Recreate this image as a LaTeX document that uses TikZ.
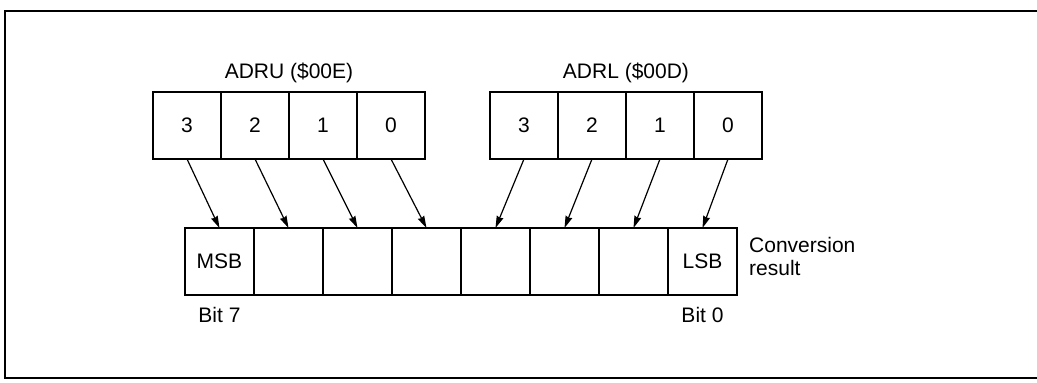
\documentclass[tikz,border=0pt]{standalone}
\usepackage{fontspec}
\setmainfont{Liberation Sans}
\usepackage{tikz}
\usetikzlibrary{positioning}
\usetikzlibrary{arrows.meta}
\tikzset{
  % One bit of a register
  bitcell/.style={
    draw=black, fill=white, rectangle, line width=2pt, outer sep=0pt,
    inner sep=0pt, minimum width=#1, minimum height=67pt, align=center},
  bitcell/.default=68pt,
  % Register name over a row of bits
  regname/.style={inner sep=0pt, align=center},
  % Bit numbers and side notes
  note/.style={inner sep=0pt, align=left},
  % Bit transfer
  moves/.style={-{Stealth[length=12pt, width=7pt, inset=1pt]}, line width=1.2pt},
  frame/.style={line width=2pt, line cap=rect},
}

\begin{document}
\begin{tikzpicture}[x=1pt, y=-1pt, font=\fontsize{21}{22.5}\selectfont]

  \useasboundingbox (0,0) rectangle (1037,383);
  \draw[frame] (1037,11) -- (5,11) -- (5,378) -- (1037,378);

  % ADRU, upper four bits
  \node[bitcell] (adru3) at (187,125.5) {3};
  \node[bitcell, right=0pt of adru3] (adru2) {2};
  \node[bitcell, right=0pt of adru2] (adru1) {1};
  \node[bitcell, right=0pt of adru1] (adru0) {0};
  \node[regname, above=9pt of adru2.north east] (adruname) {ADRU (\$00E)};

  % ADRL, lower four bits
  \node[bitcell] (adrl3) at (524,125.5) {3};
  \node[bitcell, right=0pt of adrl3] (adrl2) {2};
  \node[bitcell, right=0pt of adrl2] (adrl1) {1};
  \node[bitcell, right=0pt of adrl1] (adrl0) {0};
  \node[regname, above=9pt of adrl2.north east] (adrlname) {ADRL (\$00D)};

  % Conversion result
  \node[bitcell=69pt] (res7) at (219.5,261.5) {MSB};
  \node[bitcell=69pt, right=0pt of res7] (res6) {};
  \node[bitcell=69pt, right=0pt of res6] (res5) {};
  \node[bitcell=69pt, right=0pt of res5] (res4) {};
  \node[bitcell=69pt, right=0pt of res4] (res3) {};
  \node[bitcell=69pt, right=0pt of res3] (res2) {};
  \node[bitcell=69pt, right=0pt of res2] (res1) {};
  \node[bitcell=69pt, right=0pt of res1] (res0) {LSB};
  \node[note, below=12pt of res7] (bitseven) {Bit 7};
  \node[note, below=12pt of res0] (bitzero) {Bit 0};
  \node[note, right=12pt of res0, yshift=5pt] (resname) {Conversion\\result};

  \draw[moves] (adru3.south) -- (res7.north);
  \draw[moves] (adru2.south) -- (res6.north);
  \draw[moves] (adru1.south) -- (res5.north);
  \draw[moves] (adru0.south) -- (res4.north);
  \draw[moves] (adrl3.south) -- (res3.north);
  \draw[moves] (adrl2.south) -- (res2.north);
  \draw[moves] (adrl1.south) -- (res1.north);
  \draw[moves] (adrl0.south) -- (res0.north);

\end{tikzpicture}
\end{document}
